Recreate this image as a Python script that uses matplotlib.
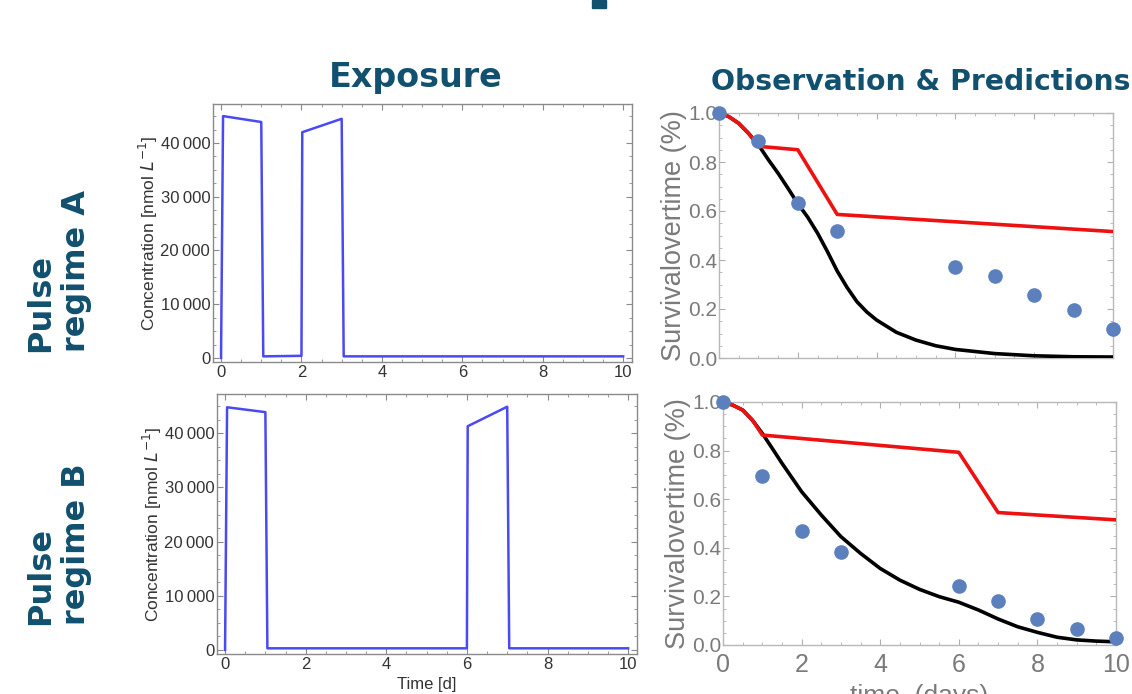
import matplotlib
matplotlib.use("Agg")
import matplotlib.pyplot as plt
from matplotlib.patches import Rectangle
from matplotlib.ticker import MultipleLocator, FuncFormatter

# ---------------- data ----------------
expA_t = [0.0, 0.05, 1.0, 1.05, 2.0, 2.02, 3.0, 3.05, 10.0]
expA_c = [0, 45000, 43900, 300, 400, 42000, 44500, 300, 300]
expB_t = [0.0, 0.05, 1.0, 1.05, 6.0, 6.02, 7.0, 7.05, 10.0]
expB_c = [0, 44800, 43900, 300, 300, 41300, 44900, 300, 300]

obs_t = [0, 1, 2, 3, 6, 7, 8, 9, 10]
obsA = [1.0, 0.884, 0.634, 0.52, 0.37, 0.333, 0.258, 0.196, 0.12]
obsB = [1.0, 0.696, 0.47, 0.381, 0.243, 0.182, 0.106, 0.067, 0.03]

redA_t = [0, 0.25, 0.5, 0.75, 1.0, 2.0, 3.0, 10.0]
redA_s = [1.0, 0.985, 0.958, 0.917, 0.864, 0.85, 0.586, 0.516]
redB_t = [0, 0.25, 0.5, 0.75, 1.0, 6.0, 7.0, 10.0]
redB_s = [1.0, 0.987, 0.967, 0.925, 0.864, 0.793, 0.545, 0.515]

blackA_t = [0, 0.25, 0.5, 0.75, 1.0, 1.25, 1.5, 1.75, 2.0, 2.25, 2.5, 2.75, 3.0,
            3.25, 3.5, 3.75, 4.0, 4.5, 5.0, 5.5, 6.0, 7.0, 8.0, 9.0, 10.0]
blackA_s = [1.0, 0.985, 0.958, 0.917, 0.87, 0.81, 0.754, 0.693, 0.63, 0.575, 0.51, 0.435,
            0.355, 0.288, 0.23, 0.188, 0.155, 0.105, 0.073, 0.05, 0.035, 0.018, 0.009, 0.005, 0.004]
blackB_t = [0, 0.25, 0.5, 0.75, 1.0, 1.25, 1.5, 2.0, 2.5, 3.0, 3.5, 4.0, 4.5, 5.0, 5.5,
            6.0, 6.5, 7.0, 7.5, 8.0, 8.5, 9.0, 9.5, 9.85]
blackB_s = [1.0, 0.987, 0.967, 0.925, 0.871, 0.81, 0.748, 0.631, 0.535, 0.446, 0.377, 0.315,
            0.267, 0.229, 0.199, 0.176, 0.144, 0.107, 0.075, 0.052, 0.032, 0.021, 0.016, 0.014]

teal = "#11506E"
W, H = 1132, 694
fig = plt.figure(figsize=(W / 100, H / 100), dpi=100)

def rect(l, t, r, b):
    return [l / W, (H - b) / H, (r - l) / W, (b - t) / H]

def thousands(v, pos):
    v = int(round(v))
    if v == 0:
        return "0"
    s = f"{v:d}"
    return s[:-3] + "\u2009" + s[-3:]

def style_exposure(ax, show_xlabel):
    ax.set_xlim(-0.2, 10.22)
    ax.set_ylim(-750, 47250)
    for sp in ax.spines.values():
        sp.set_color("#8a8a8a")
        sp.set_linewidth(1.0)
    ax.xaxis.set_major_locator(MultipleLocator(2))
    ax.xaxis.set_minor_locator(MultipleLocator(0.5))
    ax.yaxis.set_major_locator(MultipleLocator(10000))
    ax.yaxis.set_minor_locator(MultipleLocator(2500))
    ax.yaxis.set_major_formatter(FuncFormatter(thousands))
    ax.tick_params(which="both", direction="in", top=True, right=True, color="#8a8a8a")
    ax.tick_params(which="major", length=4, labelsize=12, labelcolor="#333333", pad=2)
    ax.tick_params(which="minor", length=2)
    for lab in ax.get_xticklabels() + ax.get_yticklabels():
        lab.set_fontfamily(["Liberation Sans", "DejaVu Sans"])
    ax.set_ylabel("Concentration [nmol $L^{-1}$]", fontsize=12.5, color="#333333",
                  fontfamily="Liberation Sans", labelpad=0)
    if show_xlabel:
        ax.set_xlabel("Time [d]", fontsize=12, color="#333333",
                      fontfamily="Liberation Sans", labelpad=4)

def style_surv(ax, show_xticks):
    ax.set_xlim(0, 10)
    ax.set_ylim(0, 1.0)
    for sp in ax.spines.values():
        sp.set_color("#b8b8b8")
        sp.set_linewidth(1.0)
    ax.xaxis.set_major_locator(MultipleLocator(2))
    ax.xaxis.set_minor_locator(MultipleLocator(0.5))
    ax.yaxis.set_major_locator(MultipleLocator(0.2))
    ax.yaxis.set_minor_locator(MultipleLocator(0.05))
    ax.yaxis.set_major_formatter(FuncFormatter(lambda v, p: f"{v:.1f}"))
    ax.tick_params(which="both", direction="in", top=True, right=True, color="#b0b0b0")
    ax.tick_params(which="major", length=4)
    ax.tick_params(which="minor", length=2)
    ax.tick_params(axis="y", labelsize=15, labelcolor="#7a7a7a", pad=1)
    ax.tick_params(axis="x", labelsize=18, labelcolor="#7a7a7a", pad=6)
    if not show_xticks:
        ax.tick_params(axis="x", labelbottom=False)
    for lab in ax.get_xticklabels() + ax.get_yticklabels():
        lab.set_fontfamily(["Liberation Sans", "DejaVu Sans"])
    ax.set_ylabel("Survivalovertime (%)", fontsize=19.5, color="#7a7a7a",
                  fontfamily="Liberation Sans", labelpad=1)
    if show_xticks:
        ax.set_xlabel("time  (days)", fontsize=19, color="#7a7a7a",
                      fontfamily="Liberation Sans", labelpad=5)

# exposure A
axA = fig.add_axes(rect(213, 104, 632, 362))
axA.plot(expA_t, expA_c, color="#4a4af2", lw=1.8)
style_exposure(axA, False)

# exposure B
axB = fig.add_axes(rect(217, 394, 637, 654))
axB.plot(expB_t, expB_c, color="#4a4af2", lw=1.8)
style_exposure(axB, True)

# survival A
sA = fig.add_axes(rect(719, 113, 1113, 358))
sA.plot(blackA_t, blackA_s, color="black", lw=2.6, zorder=3)
sA.plot(redA_t, redA_s, color="#ee1111", lw=2.6, zorder=4)
sA.plot(obs_t, obsA, "o", color="#5b80bd", ms=9.5, clip_on=False, zorder=5)
style_surv(sA, False)

# survival B
sB = fig.add_axes(rect(723, 402, 1116, 645))
sB.plot(blackB_t, blackB_s, color="black", lw=2.6, zorder=3)
sB.plot(redB_t, redB_s, color="#ee1111", lw=2.6, zorder=4)
sB.plot(obs_t, obsB, "o", color="#5b80bd", ms=9.5, clip_on=False, zorder=5)
style_surv(sB, True)

# titles
fig.text(416 / W, 1 - 77 / H, "Exposure", ha="center", va="center",
         fontsize=24, fontweight="bold", color=teal, fontfamily="DejaVu Sans")
fig.text(921 / W, 1 - 82 / H, "Observation & Predictions", ha="center", va="center",
         fontsize=20.3, fontweight="bold", color=teal, fontfamily="DejaVu Sans")

# row labels
for y_bottom, letter in [(352, "A"), (625, "B")]:
    fig.text(41 / W, 1 - y_bottom / H, "Pulse", rotation=90, ha="center", va="bottom",
             fontsize=23, fontweight="bold", color=teal, fontfamily="DejaVu Sans")
    fig.text(77 / W, 1 - y_bottom / H, "regime " + letter, rotation=90, ha="center",
             va="bottom", fontsize=23, fontweight="bold", color=teal,
             fontfamily="DejaVu Sans")

# fragment of slide title at top
fig.patches.append(Rectangle((592 / W, 1 - 8 / H), 14 / W, 8 / H,
                             transform=fig.transFigure, color=teal, zorder=10))

fig.savefig("out.png", dpi=100)
